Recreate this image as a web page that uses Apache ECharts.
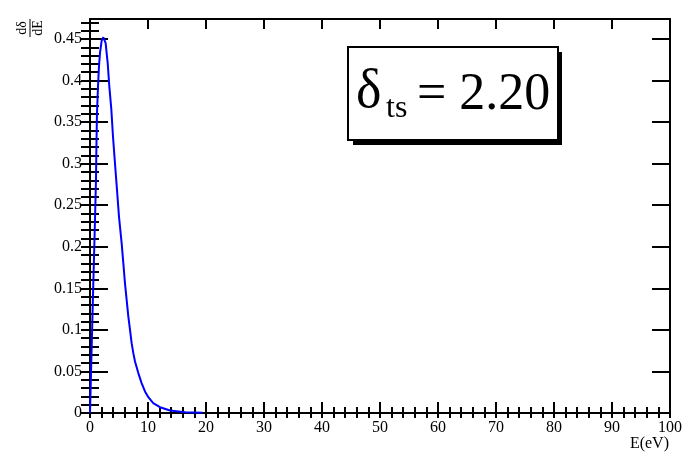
<!DOCTYPE html>
<html>
<head>
<meta charset="utf-8">
<script src="https://cdn.jsdelivr.net/npm/echarts@6/dist/echarts.min.js"></script>
<style>
html,body{margin:0;padding:0;background:#fff;}
#c{width:698px;height:476px;}
</style>
</head>
<body>
<div id="c"></div>
<script>
// ---- data ----
const energy = [0, 0.5, 0.86, 1.03, 1.1, 1.2, 1.38, 1.55, 1.72, 2.01, 2.3, 2.7, 2.87, 3.05, 3.33, 3.68, 3.97, 4.31, 4.66, 5.0, 5.46, 5.75, 6.03, 6.32, 6.61, 6.9, 7.18, 7.47, 7.76, 8.33, 8.9, 9.48, 10.06, 10.9, 12.07, 13.8, 16.4, 19.4];
const dDeltadE = [0, 0.137, 0.232, 0.28, 0.318, 0.36, 0.393, 0.417, 0.433, 0.448, 0.452, 0.445, 0.433, 0.421, 0.393, 0.365, 0.332, 0.300, 0.268, 0.236, 0.204, 0.180, 0.156, 0.136, 0.116, 0.100, 0.084, 0.072, 0.062, 0.048, 0.036, 0.026, 0.019, 0.012, 0.007, 0.003, 0.001, 0.0003];

const xMajorTicks = [0, 10, 20, 30, 40, 50, 60, 70, 80, 90, 100];
const xTickLabels = ['0', '10', '20', '30', '40', '50', '60', '70', '80', '90', '100'];
const yMajorTicks = [0, 0.05, 0.1, 0.15, 0.2, 0.25, 0.3, 0.35, 0.4, 0.45];
const yTickLabels = ['0', '0.05', '0.1', '0.15', '0.2', '0.25', '0.3', '0.35', '0.4', '0.45'];
const xRange = [0, 100];
const yRange = [0, 0.474];
const annotation = { sym: 'δ', sub: 'ts', rest: '= 2.20' };
const xTitle = 'E(eV)';

// minor tick positions (5 subdivisions per major step)
const xMinor = [];
for (let i = 0; i < 50; i++) xMinor.push(+(i * 2).toFixed(4));
xMinor.push(100);
const yMinor = [];
for (let i = 0; i <= 47; i++) yMinor.push(+(i * 0.01).toFixed(4));

const FONT = 'Liberation Serif';
const chart = echarts.init(document.getElementById('c'));

function labelFor(values, labels) {
  return function (v) {
    for (let i = 0; i < values.length; i++) if (Math.abs(values[i] - v) < 1e-9) return labels[i];
    return '';
  };
}

const lineStyle = { color: '#000', width: 2 };

const option = {
  animation: false,
  backgroundColor: '#fff',
  grid: { left: 90, right: 28, top: 19, bottom: 63 },
  xAxis: [
    { type: 'value', position: 'bottom', min: xRange[0], max: xRange[1],
      axisLine: { show: true, onZero: false, lineStyle: lineStyle },
      axisTick: { show: true, inside: true, length: 11, customValues: xMajorTicks, lineStyle: { color: '#000', width: 2 } },
      axisLabel: { show: true, customValues: xMajorTicks, formatter: labelFor(xMajorTicks, xTickLabels), color: '#000', fontFamily: FONT, fontSize: 16, margin: 7 },
      splitLine: { show: false } },
    { type: 'value', position: 'bottom', min: xRange[0], max: xRange[1],
      axisLine: { show: false },
      axisTick: { show: true, inside: true, length: 6, customValues: xMinor, lineStyle: { color: '#000', width: 2 } },
      axisLabel: { show: false }, splitLine: { show: false } },
    { type: 'value', position: 'top', min: xRange[0], max: xRange[1],
      axisLine: { show: true, onZero: false, lineStyle: lineStyle },
      axisTick: { show: true, inside: true, length: 10, customValues: xMajorTicks, lineStyle: { color: '#000', width: 2 } },
      axisLabel: { show: false }, splitLine: { show: false } },
    { type: 'value', position: 'top', min: xRange[0], max: xRange[1],
      axisLine: { show: false },
      axisTick: { show: true, inside: true, length: 5, customValues: xMinor, lineStyle: { color: '#000', width: 2 } },
      axisLabel: { show: false }, splitLine: { show: false } }
  ],
  yAxis: [
    { type: 'value', position: 'left', min: yRange[0], max: yRange[1],
      axisLine: { show: true, onZero: false, lineStyle: lineStyle },
      axisTick: { show: true, inside: true, length: 18, customValues: yMajorTicks, lineStyle: { color: '#000', width: 2 } },
      axisLabel: { show: true, customValues: yMajorTicks, formatter: labelFor(yMajorTicks, yTickLabels), color: '#000', fontFamily: FONT, fontSize: 16, margin: 8 },
      splitLine: { show: false } },
    { type: 'value', position: 'left', min: yRange[0], max: yRange[1],
      axisLine: { show: false },
      axisTick: { show: true, inside: true, length: 9, customValues: yMinor, lineStyle: { color: '#000', width: 2 } },
      axisLabel: { show: false }, splitLine: { show: false } },
    { type: 'value', position: 'right', min: yRange[0], max: yRange[1],
      axisLine: { show: true, onZero: false, lineStyle: lineStyle },
      axisTick: { show: true, inside: true, length: 18, customValues: yMajorTicks, lineStyle: { color: '#000', width: 2 } },
      axisLabel: { show: false }, splitLine: { show: false } },
    { type: 'value', position: 'right', min: yRange[0], max: yRange[1],
      axisLine: { show: false },
      axisTick: { show: true, inside: true, length: 9, customValues: yMinor, lineStyle: { color: '#000', width: 2 } },
      axisLabel: { show: false }, splitLine: { show: false } }
  ],
  series: [{
    type: 'line',
    xAxisIndex: 0, yAxisIndex: 0,
    data: energy.map((e, i) => [e, dDeltadE[i]]),
    showSymbol: false,
    smooth: false,
    lineStyle: { color: '#0000ff', width: 2 },
    itemStyle: { color: '#0000ff' },
    z: 1
  }],
  graphic: [
    // Y title: fraction d(delta)/dE rotated
    { type: 'group', x: 30, y: 28, rotation: Math.PI / 2, children: [
      { type: 'line', shape: { x1: -9, y1: 0, x2: 9, y2: 0 }, style: { stroke: '#000', lineWidth: 1 } },
      { type: 'text', x: 0, y: -1, style: { text: 'dδ', fontFamily: FONT, fontSize: 14, fill: '#000', align: 'center', verticalAlign: 'bottom' } },
      { type: 'text', x: 0, y: 1, style: { text: 'dE', fontFamily: FONT, fontSize: 14, fill: '#000', align: 'center', verticalAlign: 'top' } }
    ] },
    // X title
    { type: 'text', x: 669, y: 444, style: { text: xTitle, fontFamily: FONT, fontSize: 16, fill: '#000', align: 'right', verticalAlign: 'middle' } },
    // annotation box shadow and box
    { type: 'rect', shape: { x: 353, y: 52, width: 209, height: 93 }, style: { fill: '#000' }, z: 10 },
    { type: 'rect', shape: { x: 348, y: 47, width: 210, height: 93 }, style: { fill: '#fff', stroke: '#000', lineWidth: 2 }, z: 11 },
    { type: 'text', x: 356, y: 93, style: { text: annotation.sym, fontFamily: FONT, fontSize: 54, fill: '#000', align: 'left', verticalAlign: 'middle' }, z: 12 },
    { type: 'text', x: 386, y: 109, style: { text: annotation.sub, fontFamily: FONT, fontSize: 32, fill: '#000', align: 'left', verticalAlign: 'middle' }, z: 12 },
    { type: 'text', x: 417, y: 95, style: { text: annotation.rest, fontFamily: FONT, fontSize: 52, fill: '#000', align: 'left', verticalAlign: 'middle' }, z: 12 }
  ]
};
chart.setOption(option);
</script>
</body>
</html>
